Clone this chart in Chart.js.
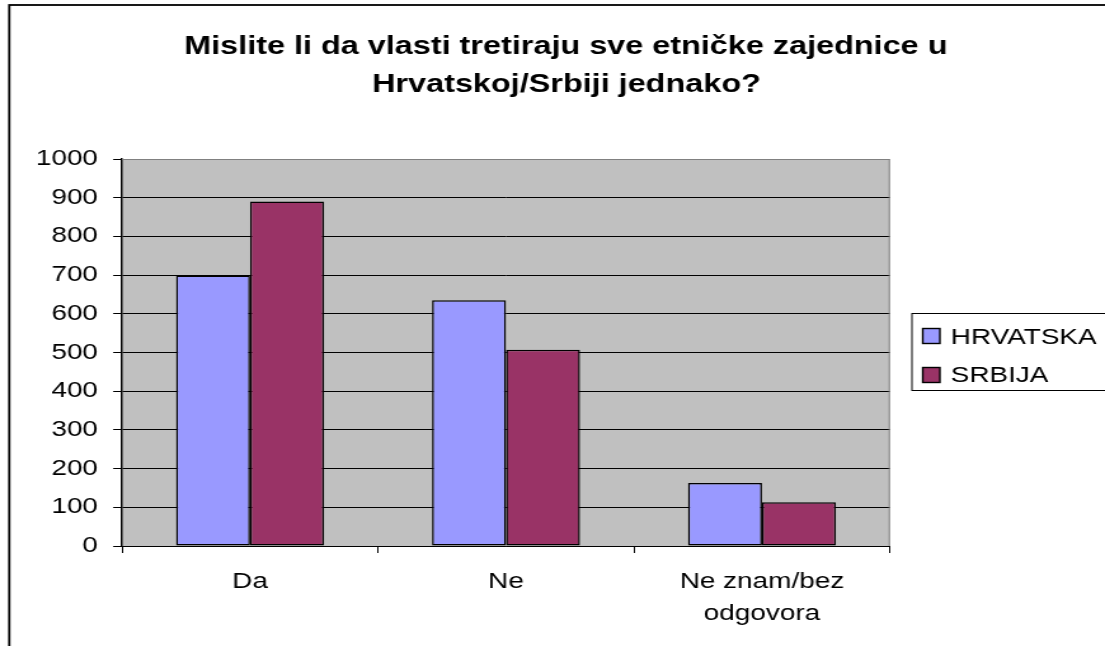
<!DOCTYPE html>
<html>
<head>
<meta charset="utf-8">
<script src="https://cdn.jsdelivr.net/npm/chart.js@4.4.1/dist/chart.umd.min.js"></script>
<style>
  html, body { margin: 0; padding: 0; background: #fff; overflow: hidden; }
  /* the original picture is stretched sideways, so draw narrower and stretch */
  #wrap { width: 870px; height: 646px; transform: scaleX(1.2701); transform-origin: 0 0; }
</style>
</head>
<body>
<div id="wrap"><canvas id="chartEtnicke"></canvas></div>
<script>
const naslov = ['Mislite li da vlasti tretiraju sve etničke zajednice u', 'Hrvatskoj/Srbiji jednako?'];
const kategorije = ['Da', 'Ne', ['Ne znam/bez', 'odgovora']];
const nazivi = ['HRVATSKA', 'SRBIJA'];
const hrvatska = [699, 635, 163];
const srbija = [890, 507, 113];
const boje = ['#9999FF', '#993366'];

const FONT = 'Arial, "Liberation Sans", sans-serif';

// siva pozadina i okvir grafa, okvir cijele slike
const pozadina = {
    id: 'pozadina',
    beforeDraw(chart) {
        const { ctx, chartArea: a } = chart;
        ctx.save();
        ctx.fillStyle = '#C0C0C0';
        ctx.fillRect(a.left, a.top, a.right - a.left, a.bottom - a.top);
        ctx.restore();
    },
    afterDraw(chart) {
        const { ctx, chartArea: a } = chart;
        ctx.save();
        ctx.strokeStyle = '#808080';
        ctx.lineWidth = 1;
        ctx.beginPath();
        ctx.moveTo(a.left, a.top + 0.5);
        ctx.lineTo(a.right - 0.5, a.top + 0.5);
        ctx.lineTo(a.right - 0.5, a.bottom);
        ctx.stroke();
        // vanjski okvir
        ctx.strokeStyle = '#000';
        ctx.lineWidth = 1.8;
        ctx.strokeRect(7.3, 5, chart.width + 20, chart.height + 20);
        ctx.restore();
    }
};

// naslov u dva reda
const naslovPlugin = {
    id: 'naslovPlugin',
    afterDraw(chart) {
        const { ctx } = chart;
        ctx.save();
        ctx.fillStyle = '#000';
        ctx.font = 'bold 25.5px ' + FONT;
        ctx.textAlign = 'center';
        ctx.textBaseline = 'alphabetic';
        ctx.fillText(naslov[0], 445.5, 54);
        ctx.fillText(naslov[1], 446, 92);
        ctx.restore();
    }
};

// legenda u okviru desno
const legenda = {
    id: 'legenda',
    afterDraw(chart) {
        const { ctx } = chart;
        ctx.save();
        ctx.strokeStyle = '#000';
        ctx.lineWidth = 1;
        ctx.fillStyle = '#fff';
        ctx.fillRect(718, 313, 200, 77);
        ctx.strokeRect(718, 313.5, 200, 77);
        ctx.font = '22px ' + FONT;
        ctx.textBaseline = 'alphabetic';
        chart.data.datasets.forEach((ds, i) => {
            const y = i === 0 ? 328 : 367;
            ctx.fillStyle = ds.backgroundColor;
            ctx.fillRect(726.5, y, 13.5, 15);
            ctx.strokeStyle = '#000';
            ctx.lineWidth = 1.4;
            ctx.strokeRect(726.5, y + 0.5, 13.5, 15);
            ctx.fillStyle = '#000';
            ctx.fillText(ds.label, 748.5, i === 0 ? 343.5 : 382);
        });
        ctx.restore();
    }
};

const ctx = document.getElementById('chartEtnicke');

new Chart(ctx, {
    type: 'bar',
    data: {
        labels: kategorije,
        datasets: [
            {
                label: nazivi[0],
                data: hrvatska,
                backgroundColor: boje[0],
                borderColor: '#000',
                borderWidth: 1.5,
                borderSkipped: false
            },
            {
                label: nazivi[1],
                data: srbija,
                backgroundColor: boje[1],
                borderColor: '#000',
                borderWidth: 1.5,
                borderSkipped: false
            }
        ]
    },
    options: {
        responsive: true,
        maintainAspectRatio: false,
        animation: false,
        events: [],
        layout: {
            padding: { top: 159, left: 0, right: 169.3, bottom: 0 }
        },
        datasets: {
            bar: { categoryPercentage: 0.578, barPercentage: 1.0 }
        },
        plugins: {
            legend: { display: false },
            title: { display: false },
            tooltip: { enabled: false }
        },
        scales: {
            x: {
                afterFit(scale) { scale.height = 100; },
                grid: {
                    offset: true,
                    drawOnChartArea: false,
                    drawTicks: true,
                    tickLength: 7,
                    tickColor: '#000'
                },
                border: { color: '#000', width: 1 },
                ticks: {
                    color: '#000',
                    maxRotation: 0,
                    autoSkip: false,
                    padding: 13,
                    font: { family: FONT, size: 22, lineHeight: 1.44 }
                }
            },
            y: {
                min: 0,
                max: 1000,
                afterFit(scale) { scale.width = 96.1; },
                grid: {
                    color: c => (c.tick && c.tick.value === 1000) ? '#808080' : '#000',
                    lineWidth: 1,
                    tickLength: 7,
                    tickColor: '#000'
                },
                border: { color: '#000', width: 1.5 },
                ticks: {
                    stepSize: 100,
                    color: '#000',
                    padding: 12,
                    font: { family: FONT, size: 22 },
                    callback: v => String(v)
                }
            }
        }
    },
    plugins: [pozadina, naslovPlugin, legenda]
});
</script>
</body>
</html>
